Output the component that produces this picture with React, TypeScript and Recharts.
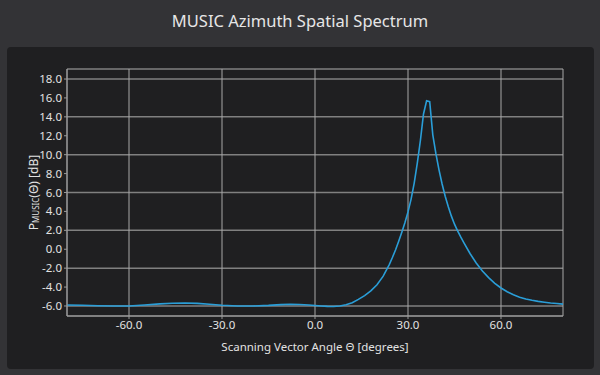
import { LineChart, Line, XAxis, YAxis, CartesianGrid, Label } from "recharts";

// scanning angle in degrees
const angles = [
  -80, -75, -70, -65, -60, -55, -50, -46, -42, -38, -34, -30, -25, -20, -15, -11, -8, -5, -2, 0, 2, 4, 6, 8,
  10, 12, 14, 16, 18, 20, 22, 24, 25, 26, 27, 28, 29, 30, 31, 32, 33, 34, 35, 36, 37, 38, 39, 40, 41,
  42, 43, 44, 45, 46, 47, 48, 50, 52, 54, 56, 58, 60, 62, 64, 66, 68, 70, 72, 74, 76, 78, 80,
];

// spectrum in dB
const power = [
  -5.9, -5.93, -5.97, -6.0, -6.0, -5.9, -5.78, -5.71, -5.68, -5.72, -5.82, -5.93, -6.0, -6.0, -5.94, -5.86,
  -5.82, -5.84, -5.9, -5.95, -6.0, -6.04, -6.05, -6.0, -5.87, -5.65, -5.3, -4.9, -4.4, -3.75, -2.85, -1.6,
  -0.85, -0.05, 0.85, 1.8, 2.8, 3.95, 5.3, 7.0, 9.1, 11.5, 14.3, 15.7, 15.6, 12.1, 10.1, 8.4, 6.9, 5.6,
  4.5, 3.5, 2.65, 1.95, 1.3, 0.7, -0.45, -1.45, -2.3, -3.0, -3.6, -4.1, -4.5, -4.82, -5.07, -5.26, -5.4,
  -5.51, -5.6, -5.68, -5.74, -5.8,
];

const xTicks = [-60, -30, 0, 30, 60];
const yTicks = [-6, -4, -2, 0, 2, 4, 6, 8, 10, 12, 14, 16, 18];

const data = angles.map((a, i) => ({ angle: a, p: power[i] }));

const FONT = "'Noto Sans', 'DejaVu Sans', sans-serif";
const TEXT = "#e2e2e2";

function YLabel(props: any) {
  const vb = props.viewBox || {};
  const cx = 33;
  const cy = vb.y + vb.height / 2;
  return (
    <text
      x={cx}
      y={cy}
      transform={`rotate(-90 ${cx} ${cy})`}
      textAnchor="middle"
      dominantBaseline="central"
      fill={TEXT}
      fontSize={12}
      fontFamily={FONT}
    >
      <tspan>P</tspan>
      <tspan fontSize={8} dy={2}>MUSIC</tspan>
      <tspan dy={-2}>(Θ) [dB]</tspan>
    </text>
  );
}

export default function App() {
  return (
    <div
      style={{
        position: "fixed",
        left: 0,
        top: 0,
        width: 600,
        height: 375,
        background: "#333336",
        fontFamily: FONT,
        overflow: "hidden",
      }}
    >
      <div
        style={{
          position: "absolute",
          top: 9,
          width: 600,
          textAlign: "center",
          color: "#e6e6e6",
          fontSize: 16.5,
        }}
      >
        MUSIC Azimuth Spatial Spectrum
      </div>
      <div
        style={{
          position: "absolute",
          left: 7,
          top: 47,
          width: 587,
          height: 322,
          borderRadius: 4,
          background: "#1f1f21",
        }}
      />
      <div style={{ position: "absolute", left: 0, top: 0 }}>
        <LineChart
          width={600}
          height={375}
          data={data}
          margin={{ top: 69, right: 37, bottom: 29, left: 27 }}
        >
          <CartesianGrid vertical={false} stroke="#808080" strokeWidth={1.5} />
          <CartesianGrid horizontal={false} stroke="#a8a8a8" strokeWidth={1} />
          <XAxis
            dataKey="angle"
            type="number"
            domain={[-80, 80]}
            ticks={xTicks}
            allowDataOverflow
            height={30}
            tickSize={3}
            stroke="#9a9a9a"
            tick={{ fill: TEXT, fontSize: 11.5, fontFamily: FONT }}
            tickFormatter={(v) => Number(v).toFixed(1)}
          >
            <Label
              value="Scanning Vector Angle Θ [degrees]"
              position="insideBottom"
              offset={-5}
              fill={TEXT}
              fontSize={11.5}
              fontFamily={FONT}
            />
          </XAxis>
          <YAxis
            type="number"
            domain={[-7.06, 19.06]}
            ticks={yTicks}
            allowDataOverflow
            width={40}
            tickSize={3}
            stroke="#9a9a9a"
            tick={{ fill: TEXT, fontSize: 11.5, fontFamily: FONT }}
            tickFormatter={(v) => Number(v).toFixed(1)}
          >
            <Label content={<YLabel />} />
          </YAxis>
          <Line
            type="linear"
            dataKey="p"
            stroke="#2a9ed8"
            strokeWidth={1.6}
            dot={false}
            isAnimationActive={false}
          />
        </LineChart>
      </div>
    </div>
  );
}
